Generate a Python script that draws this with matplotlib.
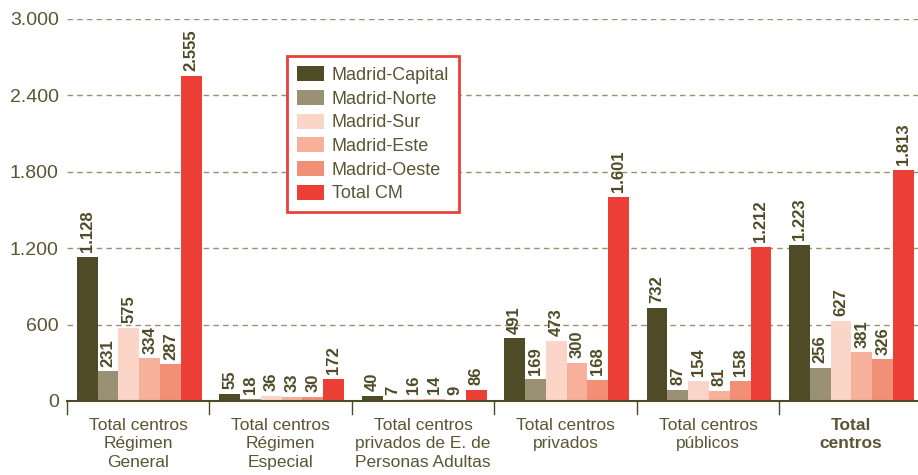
import matplotlib.pyplot as plt
import numpy as np

plt.rcParams['font.family'] = ['Liberation Sans', 'DejaVu Sans']

categories = ['Total centros\nRégimen\nGeneral', 'Total centros\nRégimen\nEspecial',
              'Total centros\nprivados de E. de\nPersonas Adultas', 'Total centros\nprivados',
              'Total centros\npúblicos', 'Total\ncentros']
series = ['Madrid-Capital', 'Madrid-Norte', 'Madrid-Sur', 'Madrid-Este', 'Madrid-Oeste', 'Total CM']
capital = [1128, 55, 40, 491, 732, 1223]
norte = [231, 18, 7, 169, 87, 256]
sur = [575, 36, 16, 473, 154, 627]
este = [334, 33, 14, 300, 81, 381]
oeste = [287, 30, 9, 168, 158, 326]
total_cm = [2555, 172, 86, 1601, 1212, 1813]
yticks = [0, 600, 1200, 1800, 2400, 3000]

values = [capital, norte, sur, este, oeste, total_cm]
colors = ['#4f4b26', '#9a9175', '#fbd5c8', '#f7b19b', '#f28f77', '#ec3f35']
olive = '#4f4b26'
text_c = '#5a5533'

def fmt(v):
    return f'{v:,}'.replace(',', '.')

fig = plt.figure(figsize=(9.18, 4.75), dpi=100)
ax = fig.add_axes([0.073, 0.156, 0.931, 0.804])

x = np.arange(len(categories))
w = 0.146
for i, (name, vals, c) in enumerate(zip(series, values, colors)):
    pos = x - 2.5 * w + i * w + 0.007
    ax.bar(pos, vals, width=w, color=c, label=name, zorder=3)
    for p, v in zip(pos, vals):
        ax.annotate(fmt(v), (p, v), xytext=(0, 3.5), textcoords='offset points',
                    rotation=90, ha='center', va='bottom', fontsize=12,
                    fontweight='bold', color=olive, zorder=4)

ax.set_ylim(0, 3000)
ax.set_xlim(-0.5, len(categories) - 0.5)
ax.set_yticks(yticks)
ax.set_yticklabels([fmt(t) for t in yticks], fontsize=14, color=text_c)
ax.tick_params(axis='y', length=0, pad=6)
for t in yticks[1:]:
    ax.axhline(t, color='#9a9175', linestyle=(0, (4, 3)), linewidth=1, zorder=1)

ax.set_xticks(x)
ax.set_xticklabels(categories, fontsize=12.5, color=text_c, linespacing=1.3)
ax.get_xticklabels()[-1].set_fontweight('bold')
ax.tick_params(axis='x', length=0, pad=12)
for b in np.arange(-0.5, len(categories), 1):
    ax.plot([b, b], [0, -0.035], transform=ax.get_xaxis_transform(), color=olive,
            linewidth=1, clip_on=False)

for s in ['top', 'right', 'left']:
    ax.spines[s].set_visible(False)
ax.spines['bottom'].set_color(olive)
ax.spines['bottom'].set_linewidth(1.5)
ax.spines['bottom'].set_zorder(5)

leg = ax.legend(loc='upper left', bbox_to_anchor=(0.257, 0.902), borderaxespad=0,
                fontsize=13, frameon=True, fancybox=False, handlelength=1.5,
                handleheight=0.9, handletextpad=0.45, labelspacing=0.33,
                borderpad=0.55, labelcolor=text_c)
leg.get_frame().set_edgecolor('#e8413a')
leg.get_frame().set_linewidth(2)
leg.get_frame().set_alpha(1)

fig.savefig('out.png', dpi=100)
